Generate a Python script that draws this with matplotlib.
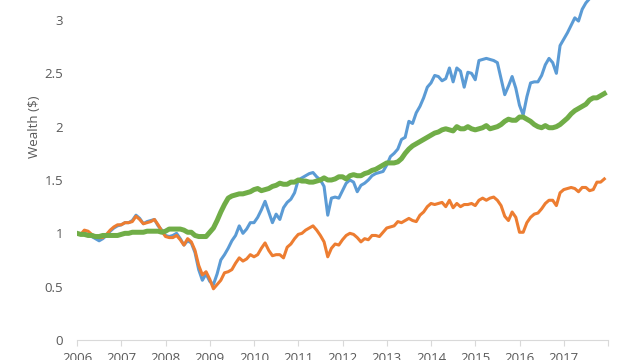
import matplotlib
matplotlib.use("Agg")
import matplotlib.pyplot as plt
import numpy as np

start_year = 2006
years = list(range(2006, 2019))
year_labels = [str(y) for y in range(2006, 2018)] + [""]
y_ticks = [0, 0.5, 1, 1.5, 2, 2.5, 3, 3.5, 4]
y_tick_labels = ["0", "0.5", "1", "1.5", "2", "2.5", "3", "3.5", "4"]

blue = [1.00, 0.99, 1.00, 0.99, 0.97, 0.95, 0.93, 0.95, 0.98, 1.02, 1.05, 1.07,
        1.08, 1.10, 1.10, 1.12, 1.17, 1.14, 1.09, 1.11, 1.12, 1.13, 1.07, 1.03,
        0.98, 0.97, 0.98, 1.00, 0.95, 0.89, 0.93, 0.91, 0.82, 0.66, 0.56, 0.62,
        0.55, 0.52, 0.62, 0.75, 0.80, 0.86, 0.93, 0.98, 1.07, 1.00, 1.04, 1.10,
        1.10, 1.15, 1.22, 1.30, 1.20, 1.10, 1.18, 1.13, 1.24, 1.29, 1.32, 1.38,
        1.50, 1.52, 1.54, 1.56, 1.57, 1.53, 1.50, 1.44, 1.17, 1.33, 1.34, 1.33,
        1.40, 1.47, 1.50, 1.48, 1.39, 1.45, 1.47, 1.50, 1.54, 1.56, 1.57, 1.58,
        1.64, 1.72, 1.75, 1.79, 1.88, 1.90, 2.05, 2.03, 2.13, 2.19, 2.27, 2.37,
        2.41, 2.48, 2.47, 2.43, 2.45, 2.55, 2.42, 2.55, 2.52, 2.37, 2.51, 2.50,
        2.44, 2.62, 2.63, 2.64, 2.63, 2.62, 2.60, 2.45, 2.30, 2.38, 2.47, 2.36,
        2.20, 2.11, 2.28, 2.41, 2.42, 2.42, 2.48, 2.58, 2.64, 2.60, 2.50, 2.76,
        2.82, 2.88, 2.95, 3.02, 2.99, 3.10, 3.16, 3.20, 3.24, 3.28, 3.32, 3.35]

orange = [1.00, 0.99, 1.03, 1.02, 0.99, 0.97, 0.96, 0.96, 0.99, 1.03, 1.06, 1.08,
          1.08, 1.10, 1.10, 1.11, 1.16, 1.13, 1.09, 1.10, 1.11, 1.13, 1.08, 1.02,
          0.97, 0.96, 0.96, 0.98, 0.94, 0.89, 0.95, 0.92, 0.84, 0.70, 0.61, 0.64,
          0.57, 0.48, 0.52, 0.56, 0.63, 0.64, 0.66, 0.72, 0.77, 0.74, 0.76, 0.80,
          0.78, 0.80, 0.86, 0.91, 0.84, 0.79, 0.80, 0.80, 0.77, 0.87, 0.90, 0.95,
          0.99, 1.00, 1.03, 1.05, 1.07, 1.03, 0.98, 0.92, 0.78, 0.86, 0.90, 0.89,
          0.94, 0.98, 1.00, 0.99, 0.96, 0.92, 0.95, 0.94, 0.98, 0.98, 0.97, 1.01,
          1.05, 1.06, 1.07, 1.11, 1.10, 1.12, 1.14, 1.12, 1.11, 1.17, 1.20, 1.25,
          1.28, 1.27, 1.28, 1.29, 1.25, 1.31, 1.24, 1.28, 1.25, 1.27, 1.27, 1.28,
          1.26, 1.31, 1.33, 1.31, 1.33, 1.34, 1.31, 1.26, 1.16, 1.12, 1.20, 1.15,
          1.01, 1.01, 1.10, 1.15, 1.18, 1.19, 1.23, 1.28, 1.31, 1.31, 1.26, 1.38,
          1.41, 1.42, 1.43, 1.42, 1.39, 1.43, 1.43, 1.40, 1.41, 1.48, 1.48, 1.51]

green = [1.00, 0.99, 0.99, 0.98, 0.98, 0.97, 0.97, 0.98, 0.98, 0.98, 0.98, 0.98,
         0.99, 1.00, 1.00, 1.01, 1.01, 1.01, 1.01, 1.02, 1.02, 1.02, 1.02, 1.01,
         1.02, 1.04, 1.04, 1.04, 1.04, 1.03, 1.01, 1.01, 0.98, 0.97, 0.97, 0.97,
         1.01, 1.05, 1.12, 1.20, 1.27, 1.33, 1.35, 1.36, 1.37, 1.37, 1.38, 1.39,
         1.41, 1.42, 1.40, 1.41, 1.42, 1.44, 1.45, 1.47, 1.46, 1.46, 1.48, 1.48,
         1.50, 1.49, 1.49, 1.48, 1.48, 1.49, 1.50, 1.52, 1.50, 1.50, 1.51, 1.53,
         1.53, 1.51, 1.54, 1.55, 1.54, 1.54, 1.56, 1.57, 1.59, 1.60, 1.62, 1.64,
         1.66, 1.66, 1.66, 1.67, 1.70, 1.75, 1.79, 1.82, 1.84, 1.86, 1.88, 1.90,
         1.92, 1.94, 1.95, 1.97, 1.98, 1.97, 1.96, 2.00, 1.98, 1.98, 2.00, 1.98,
         1.97, 1.98, 1.99, 2.01, 1.98, 1.99, 2.00, 2.02, 2.05, 2.07, 2.06, 2.06,
         2.09, 2.09, 2.07, 2.05, 2.02, 2.00, 1.99, 2.01, 1.99, 1.99, 2.00, 2.02,
         2.05, 2.08, 2.12, 2.15, 2.17, 2.19, 2.21, 2.25, 2.27, 2.27, 2.29, 2.31]

months = np.arange(len(blue))
x = start_year + months / 12.0

plt.rcParams['font.family'] = ['Open Sans', 'DejaVu Sans']

fig = plt.figure(figsize=(6.4, 3.6), dpi=100)
ax = fig.add_axes([77 / 640, 20 / 360, 531 / 640, 4 * 106.67 / 360])

ax.plot(x, blue, color='#5B9BD5', lw=2.2, solid_joinstyle='round')
ax.plot(x, orange, color='#ED7D31', lw=2.2, solid_joinstyle='round')
ax.plot(x, green, color='#70AD47', lw=3.6, solid_joinstyle='round')

ax.set_xlim(2006, 2018)
ax.set_ylim(0, 4)
ax.set_xticks(years)
ax.set_xticklabels(year_labels)
ax.set_yticks(y_ticks)
ax.set_yticklabels(y_tick_labels)

for s in ['top', 'right', 'left']:
    ax.spines[s].set_visible(False)
ax.spines['bottom'].set_color('#D9D9D9')
ax.spines['bottom'].set_linewidth(0.8)

ax.tick_params(axis='y', length=0, pad=10, labelsize=9.5, labelcolor='#595959')
ax.tick_params(axis='x', length=4, width=0.8, color='#D9D9D9', pad=5,
               labelsize=9.5, labelcolor='#595959')

ax.set_ylabel('Wealth ($)', fontsize=9.5, color='#595959')
ax.yaxis.set_label_coords(-0.068, 0.5)

fig.savefig('out.png', dpi=100)
